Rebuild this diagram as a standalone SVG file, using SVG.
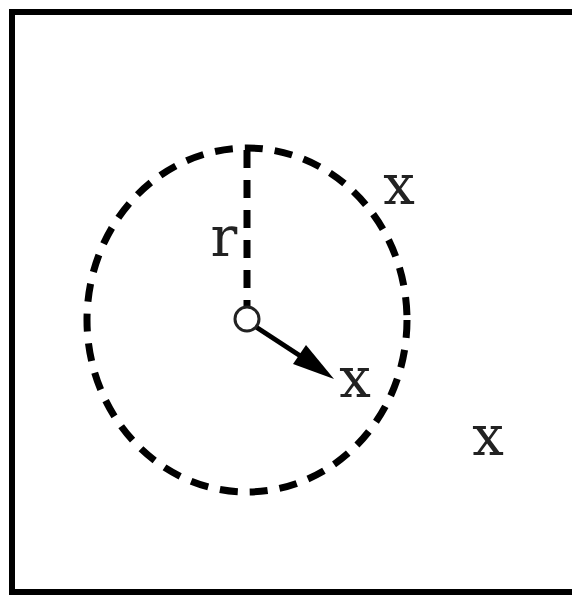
<svg xmlns="http://www.w3.org/2000/svg" width="572" height="596" viewBox="0 0 572 596">
<style>
.dash{fill:none;stroke:#000;stroke-width:7;stroke-dasharray:18 12}
.lbl{font-family:"DejaVu Serif","Liberation Serif",serif;font-size:56px;fill:#222}
</style>
<rect x="0" y="0" width="572" height="596" fill="#fff"/>
<rect id="frame" x="12" y="12" width="580" height="580" fill="none" stroke="#000" stroke-width="6"/>
<g id="circle"><ellipse class="dash" cx="247" cy="320" rx="160" ry="172"/></g>
<g id="connectors">
<line class="dash" x1="247" y1="150" x2="247" y2="306"/>
<line x1="256" y1="327" x2="305" y2="359" stroke="#000" stroke-width="5"/>
<polygon points="334,379 293,364 306,345" fill="#000"/>
</g>
<g id="center"><circle cx="247" cy="319" r="12" fill="none" stroke="#222" stroke-width="3"/></g>
<g id="labels">
<text class="lbl" x="224" y="256" text-anchor="middle">r</text>
<text class="lbl" x="399" y="204" text-anchor="middle">x</text>
<text class="lbl" x="355" y="397" text-anchor="middle">x</text>
<text class="lbl" x="488" y="455" text-anchor="middle">x</text>
</g>
</svg>
